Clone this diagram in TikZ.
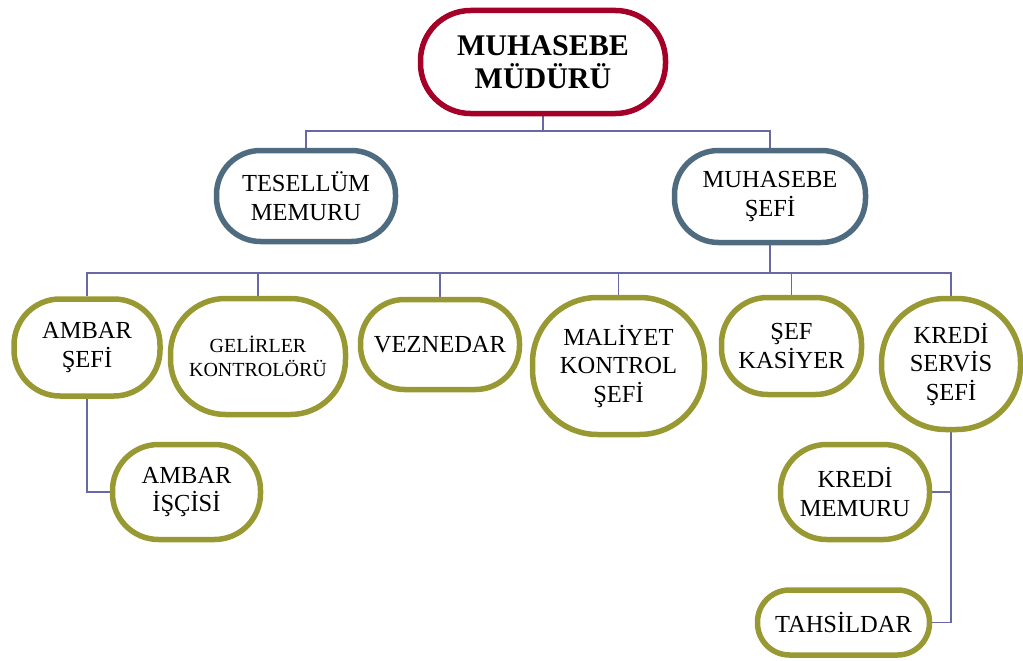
\documentclass[tikz,border=0pt]{standalone}
\usepackage{fontspec}
\setmainfont{Liberation Serif}
\usetikzlibrary{backgrounds}
\definecolor{headred}{RGB}{165,0,40}
\definecolor{midblue}{RGB}{79,107,128}
\definecolor{olive}{RGB}{153,153,51}
\definecolor{linkc}{RGB}{104,104,166}
\begin{document}
\begin{tikzpicture}[x=1pt,y=-1pt,
  unit/.style={draw, line width=5.5pt, fill=white, align=center, inner sep=0pt,
    font=\fontsize{24.5}{28.5}\selectfont},
  chief/.style={unit, draw=headred, font=\fontsize{30}{33}\selectfont\bfseries},
  mid/.style={unit, draw=midblue},
  leaf/.style={unit, draw=olive},
  link/.style={draw=linkc, line width=1.8pt}]
\useasboundingbox (0,0) rectangle (1023,661);

% head
\node[chief, minimum width=245pt, minimum height=103pt, rounded corners=50pt] (top) at (543,62) {MUHASEBE\\MÜDÜRÜ};

% second level
\node[mid, minimum width=179pt, minimum height=91pt, rounded corners=44pt] (tes) at (306,196) {TESELLÜM\\MEMURU};
\node[mid, minimum width=191pt, minimum height=92pt, rounded corners=44pt] (msef) at (770,196.5) {MUHASEBE\\ŞEFİ};

% third level
\node[leaf, minimum width=146pt, minimum height=97pt, rounded corners=46pt] (amb) at (87,347.5) {AMBAR\\ŞEFİ};
\node[leaf, minimum width=175pt, minimum height=116pt, rounded corners=55pt, font=\fontsize{20}{24}\selectfont] (gel) at (258,356.5) {GELİRLER\\KONTROLÖRÜ};
\node[leaf, minimum width=159pt, minimum height=90pt, rounded corners=44pt] (vez) at (440,344.5) {VEZNEDAR};
\node[leaf, minimum width=172pt, minimum height=137pt, rounded corners=65pt] (mal) at (618.5,366) {MALİYET\\KONTROL\\ŞEFİ};
\node[leaf, minimum width=140pt, minimum height=97pt, rounded corners=46pt] (kas) at (791.5,346) {ŞEF\\KASİYER};
\node[leaf, minimum width=139pt, minimum height=131pt, rounded corners=64pt] (kre) at (951,364) {KREDİ\\SERVİS\\ŞEFİ};

% fourth level
\node[leaf, minimum width=148pt, minimum height=95pt, rounded corners=46pt] (isci) at (186.5,492) {AMBAR\\İŞÇİSİ};
\node[leaf, minimum width=149pt, minimum height=95pt, rounded corners=46pt] (kmem) at (855,492) {KREDİ\\MEMURU};
\node[leaf, minimum width=172pt, minimum height=65pt, rounded corners=32pt, text depth=-3pt] (tah) at (843.5,622.5) {TAHSİLDAR};

\coordinate (bus1) at (0,131);
\coordinate (bus2) at (0,273);

\begin{pgfonlayer}{background}
  \path[link] (top.south) -- (top.south |- bus1);
  \path[link] (tes.north) -- (tes.north |- bus1) -- (msef.north |- bus1) -- (msef.north);
  \path[link] (msef.south) -- (msef.south |- bus2);
  \path[link] (amb.north) -- (amb.north |- bus2) -- (kre.north |- bus2) -- (kre.north);
  \path[link] (gel.north) -- (gel.north |- bus2);
  \path[link] (vez.north) -- (vez.north |- bus2);
  \path[link] (mal.north) -- (mal.north |- bus2);
  \path[link] (kas.north) -- (kas.north |- bus2);
  \path[link] (amb.south) |- (isci.west);
  \path[link] (kre.south) |- (tah.east);
  \path[link] (kmem.east) -- (kmem.east -| kre.south);
\end{pgfonlayer}
\end{tikzpicture}
\end{document}
